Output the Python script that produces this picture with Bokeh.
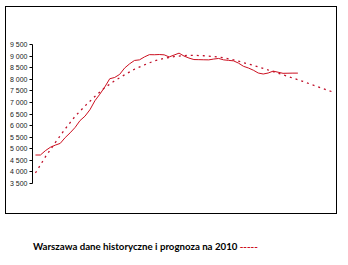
from bokeh.plotting import figure
from bokeh.models import ColumnDataSource, FixedTicker, Range1d, Div
from bokeh.layouts import column
from bokeh.embed import file_html
from bokeh.resources import INLINE

# historic data (yearly)
hist_years = list(range(1950, 2004))
hist_values = [4730, 4730, 4916, 5063, 5156, 5232, 5481, 5687, 5919, 6216,
               6406, 6684, 7070, 7355, 7667, 8022, 8077, 8209, 8482, 8664,
               8811, 8837, 8963, 9062, 9058, 9067, 9054, 8963, 9045, 9127,
               9002, 8915, 8850, 8846, 8841, 8837, 8872, 8898, 8837, 8815,
               8794, 8698, 8560, 8486, 8391, 8269, 8226, 8269, 8352, 8304,
               8256, 8261, 8265, 8265]

# trend / forecast (every 2 years)
trend_years = list(range(1950, 2011, 2))
trend_values = [3954, 4647, 5267, 5856, 6398, 6848, 7255, 7637, 7936, 8191,
                8434, 8620, 8794, 8902, 8980, 9023, 9032, 9015, 8980, 8924,
                8841, 8720, 8599, 8469, 8330, 8191, 8048, 7910, 7754, 7602,
                7455]

y_ticks = [3500, 4000, 4500, 5000, 5500, 6000, 6500, 7000, 7500, 8000, 8500, 9000, 9500]
y_tick_labels = ["3 500", "4 000", "4 500", "5 000", "5 500", "6 000", "6 500",
                 "7 000", "7 500", "8 000", "8 500", "9 000", "9 500"]
legend_text = "Warszawa dane historyczne i prognoza na 2010"

p = figure(width=332, height=208, output_backend="svg", toolbar_location=None,
           x_axis_location=None,
           x_range=Range1d(1949.4, 2010.8), y_range=Range1d(3500, 9500),
           min_border_left=24, min_border_right=2, min_border_top=37,
           min_border_bottom=32, margin=(6, 0, 0, 5),
           styles={"border": "1px solid black"})
p.grid.visible = False
p.outline_line_color = None
p.background_fill_color = "white"
p.border_fill_color = "white"

hist = ColumnDataSource(dict(x=hist_years, y=hist_values))
trend = ColumnDataSource(dict(x=trend_years, y=trend_values))

p.line("x", "y", source=trend, line_color="#c0102a", line_width=1.3, line_dash="2 4")
p.line("x", "y", source=hist, line_color="#cc1020", line_width=1)

ax = p.yaxis[0]
ax.ticker = FixedTicker(ticks=y_ticks)
ax.major_label_overrides = {t: l for t, l in zip(y_ticks, y_tick_labels)}
ax.minor_tick_line_color = None
ax.major_tick_in = 0
ax.major_tick_out = 3
ax.axis_line_color = "black"
ax.axis_line_width = 1
ax.major_tick_line_color = "black"
ax.major_label_text_font = "Liberation Sans"
ax.major_label_text_font_size = "7px"
ax.major_label_text_color = "#222222"
ax.major_label_standoff = 2

legend = Div(text=('<span style="font-family:Lato;font-weight:bold;font-size:9.7px;color:black">'
                   + legend_text + ' </span><span style="font-family:Lato;font-weight:bold;'
                   'font-size:9.7px;color:#cc1020">-----</span>'),
             margin=(24, 0, 0, 33))

layout = column(p, legend, spacing=0)
open("out.html", "w").write(file_html(layout, INLINE))
